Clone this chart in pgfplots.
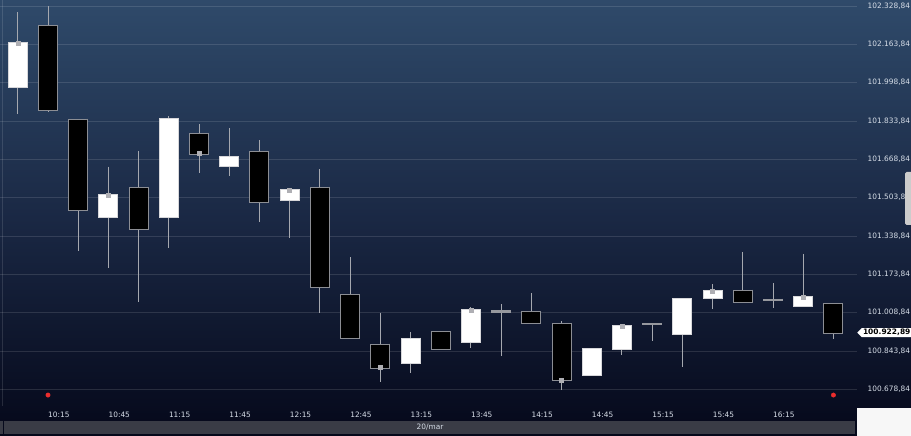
\documentclass[border=0pt]{standalone}
\usepackage{pgfplots}
\pgfplotsset{compat=1.18}
\usepackage{pgfplotstable}
\usepackage{fontspec}
\setmainfont{DejaVu Sans}
\usetikzlibrary{shapes.symbols}

\definecolor{bgtop}{RGB}{47,74,106}
\definecolor{bgmid}{RGB}{26,40,68}
\definecolor{bgbot}{RGB}{5,8,26}
\definecolor{wick}{RGB}{165,168,175}
\definecolor{edgedn}{RGB}{140,142,148}
\definecolor{edgeup}{RGB}{215,215,218}
\definecolor{dojic}{RGB}{150,152,158}
\definecolor{labc}{RGB}{215,222,232}
\definecolor{closec}{RGB}{175,175,180}
\definecolor{dotred}{RGB}{235,45,45}
\definecolor{barc}{RGB}{58,60,70}

% candles, 15 min each, 0 = 10:00 ... 27 = 16:45 (20/mar)
\pgfplotstableread{
i  o         h         l         c
0  101980.2  102301.8  101862.7  102170.9
3  101419.3  101637.1  101199.7  101514.0
5  101421.8  101854.1  101288.4  101843.7
7  101638.8  101802.4  101597.1  101677.6
9  101492.4  101542.4  101328.9  101535.5
13 100793.3  100925.5  100749.0  100896.6
15 100881.1  101031.8  100856.6  101018.9
19 100740.4  100851.0  100736.1  100851.0
20 100852.3  100959.9  100827.8  100950.0
22 100916.9  101066.3  100776.1  101066.3
23 101073.1  101132.1  101025.8  101100.7
26 101038.7  101261.3  101037.0  101076.2
}\up

\pgfplotstableread{
i  o         h         l         c
1  102242.8  102327.6  101873.9  101879.9
2  101839.4  101842.0  101275.5  101450.7
4  101544.1  101704.7  101055.9  101370.2
6  101779.2  101820.9  101611.3  101693.1
8  101699.1  101752.0  101400.3  101486.4
10 101546.7  101627.2  101006.0  101119.2
11 101083.5  101247.1  100896.0  100898.4
12 100870.8  101008.6  100711.5  100771.8
14 100924.2  100929.8  100852.0  100853.6
17 101010.3  101092.1  100964.0  100965.5
18 100958.6  100972.8  100675.8  100720.1
24 101103.3  101269.9  101054.0  101055.9
27 101044.7  101044.7  100894.1  100922.89
}\down

\pgfplotstableread{
i  o         h         l         c
16 101013.6  101046.0  100820.9  101015.4
21 100957.8  100960.5  100888.0  100959.0
25 101063.8  101135.1  101028.8  101065.2
}\doji

\pgfplotsset{
    candle/.style 2 args={draw=none, mark=none,
        error bars/.cd, y dir=minus, y explicit, error mark=none,
        error bar style={line width=#1, draw=#2}},
}

\begin{document}
\begin{tikzpicture}
\useasboundingbox (0,0) rectangle (911pt,436pt);
\shade[top color=bgtop, bottom color=bgbot, middle color=bgmid] (0,0) rectangle (911pt,436pt);
\draw[white, opacity=0.12, line width=0.8pt] (2.5pt,30pt) -- (2.5pt,436pt);

\begin{axis}[
    at={(0pt,30pt)}, anchor=south west,
    width=857pt, height=406pt, scale only axis,
    xmin=-0.589, xmax=27.78,
    ymin=100606.9, ymax=102354.8,
    axis line style={draw=none},
    major tick length=0pt,
    ymajorgrids,
    grid style={white, opacity=0.12, line width=0.8pt},
    ytick={100678.84,100843.84,101008.84,101173.84,101338.84,101503.84,
           101668.84,101833.84,101998.84,102163.84,102328.84},
    scaled y ticks=false,
    yticklabel pos=right,
    yticklabel style={anchor=west, inner sep=0pt, xshift=10.5pt},
    xtick={1,3,...,25},
    xticklabels={10:15,10:45,11:15,11:45,12:15,12:45,13:15,13:45,14:15,14:45,15:15,15:45,16:15},
    xticklabel style={anchor=north west, inner sep=0pt, yshift=-6pt},
    ticklabel style={font=\fontsize{7.4}{8}\selectfont, text=labc},
    /pgf/number format/fixed,
    /pgf/number format/fixed zerofill,
    /pgf/number format/precision=2,
    /pgf/number format/1000 sep={.},
    /pgf/number format/dec sep={,},
    /pgf/number format/assume math mode=true,
]
% wicks
\addplot[candle={1pt}{wick}] table[x=i, y=h, y error expr=\thisrow{h}-\thisrow{l}] {\up};
\addplot[candle={1pt}{wick}] table[x=i, y=h, y error expr=\thisrow{h}-\thisrow{l}] {\down};
\addplot[candle={1pt}{wick}] table[x=i, y=h, y error expr=\thisrow{h}-\thisrow{l}] {\doji};
% bodies: outline, then fill
\addplot[candle={20pt}{edgeup}] table[x=i, y expr=\thisrow{c}+4.3, y error expr=\thisrow{c}-\thisrow{o}+8.6] {\up};
\addplot[candle={18pt}{white}] table[x=i, y=c, y error expr=\thisrow{c}-\thisrow{o}] {\up};
\addplot[candle={20pt}{edgedn}] table[x=i, y expr=\thisrow{o}+4.3, y error expr=\thisrow{o}-\thisrow{c}+8.6] {\down};
\addplot[candle={18pt}{black}] table[x=i, y=o, y error expr=\thisrow{o}-\thisrow{c}] {\down};
\addplot[candle={20pt}{dojic}] table[x=i, y expr=\thisrow{c}+4.3, y error expr=\thisrow{c}-\thisrow{o}+8.6] {\doji};
% close markers
\addplot[only marks, mark=square*, mark size=2pt, color=closec] coordinates {
    (0,102170.9) (3,101514.0) (6,101693.1) (9,101535.5) (12,100771.8)
    (15,101018.9) (18,100720.1) (20,100950.0) (23,101100.7) (26,101076.2)
};
% event dots
\addplot[only marks, mark=*, mark size=2.2pt, color=dotred] coordinates {
    (1,100654) (27,100654)
};
\coordinate (tag) at (axis cs:27.78,100922.89);
\end{axis}

% bottom scroll bar, side handle
\fill[barc] (4pt,2pt) rectangle (855pt,15pt);
\fill[barc] (0pt,2pt) rectangle (2.5pt,15pt);
\node[text=labc, font=\fontsize{7.4}{8}\selectfont] at (430pt,8.5pt) {20/mar};
\fill[white!94!gray] (857pt,0pt) rectangle (911pt,28pt);
\fill[gray!40, rounded corners=1.5pt] (905pt,211pt) rectangle (914pt,264pt);
\node[signal, signal to=west, fill=white, text=black, inner sep=1.2pt, anchor=west,
    font=\bfseries\fontsize{7.5}{8}\selectfont] at (tag) {100.922,89};
\end{tikzpicture}
\end{document}
